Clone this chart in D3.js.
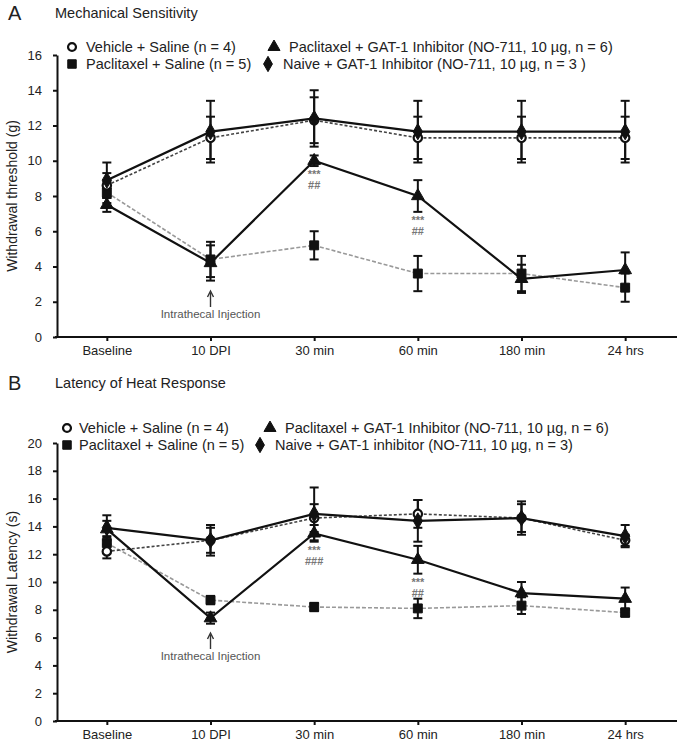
<!DOCTYPE html>
<html><head><meta charset="utf-8">
<script src="https://cdn.jsdelivr.net/npm/d3@7"></script>
<style>body{margin:0;background:#fff}svg{display:block}text{font-family:"Liberation Sans",Arial,sans-serif;fill:#222}</style>
</head><body><svg id="c" width="685" height="750"></svg>
<script>
const categories = ["Baseline","10 DPI","30 min","60 min","180 min","24 hrs"];
const seriesNames = ["Vehicle + Saline (n = 4)","Paclitaxel + Saline (n = 5)","Paclitaxel + GAT-1 Inhibitor (NO-711, 10 µg, n = 6)","Naive + GAT-1 Inhibitor (NO-711, 10 µg, n = 3 )"];
const seriesNamesB = ["Vehicle + Saline (n = 4)","Paclitaxel + Saline (n = 5)","Paclitaxel + GAT-1 Inhibitor (NO-711, 10 µg, n = 6)","Naive + GAT-1 inhibitor (NO-711, 10 µg, n = 3)"];
// Panel A: withdrawal threshold (g)
const vehicleA = [8.6, 11.3, 12.3, 11.3, 11.3, 11.3];
const vehicleAErr = [0.7, 1.2, 1.3, 1.2, 1.2, 1.2];
const pacSalineA = [8.2, 4.4, 5.2, 3.6, 3.6, 2.8];
const pacSalineAErr = [0.6, 1.0, 0.8, 1.0, 1.0, 0.8];
const pacGatA = [7.5, 4.2, 10.0, 8.0, 3.3, 3.8];
const pacGatAErr = [0.4, 1.0, 0.3, 0.9, 0.8, 1.0];
const naiveA = [8.9, 11.65, 12.4, 11.65, 11.65, 11.65];
const naiveAErr = [1.0, 1.75, 1.6, 1.75, 1.75, 1.75];
const yTicksA = [0,2,4,6,8,10,12,14,16];
// Panel B: withdrawal latency (s)
const vehicleB = [12.2, 13.0, 14.6, 14.9, 14.6, 13.0];
const vehicleBErr = [0.5, 0.9, 1.0, 1.0, 1.0, 0.4];
const pacSalineB = [12.8, 8.7, 8.2, 8.1, 8.3, 7.8];
const pacSalineBErr = [0.5, 0.3, 0.3, 0.7, 0.6, 0.3];
const pacGatB = [13.8, 7.4, 13.5, 11.6, 9.2, 8.8];
const pacGatBErr = [0.6, 0.4, 0.6, 1.0, 0.8, 0.8];
const naiveB = [13.9, 13.0, 14.9, 14.4, 14.6, 13.3];
const naiveBErr = [0.9, 1.1, 1.9, 1.5, 1.2, 0.8];
const yTicksB = [0,2,4,6,8,10,12,14,16,18,20];
// significance annotations: [category index, stars, hashes]
const sigA = [[2,"***","##"],[3,"***","##"]];
const sigB = [[2,"***","###"],[3,"***","##"]];

const svg = d3.select("#c");
const styles = [
  {sym:"circle", fill:"#fff", stroke:"#111", line:"#444", dash:"3,2", lw:1.6},
  {sym:"square", fill:"#111", stroke:"#111", line:"#999", dash:"4,2", lw:1.6},
  {sym:"triangle", fill:"#111", stroke:"#111", line:"#111", dash:null, lw:2.2},
  {sym:"diamond", fill:"#111", stroke:"#111", line:"#111", dash:null, lw:2.2}
];
const symType = {circle:d3.symbolCircle, square:d3.symbolSquare, triangle:d3.symbolTriangle, diamond:d3.symbolDiamond};
const symSize = {circle:55, square:80, triangle:70, diamond:75};

function panel(o){
  const g = svg.append("g");
  const x = d3.scalePoint().domain(categories).range([55, 677]).padding(0.5);
  const y = d3.scaleLinear().domain([0, o.ymax]).range([o.y0, o.y1]);
  // title
  g.append("text").attr("x",8).attr("y",o.titleY).attr("font-size",20).text(o.letter);
  g.append("text").attr("x",55).attr("y",o.titleY-2).attr("font-size",14.5).text(o.title);
  // axes
  const ya = g.append("g").attr("transform","translate(57,0)")
    .call(d3.axisLeft(y).tickValues(o.yticks).tickSize(4).tickSizeOuter(0).tickPadding(11));
  ya.selectAll("text").attr("font-size",13).style("fill","#222");
  ya.selectAll("line,path").attr("stroke","#111").attr("stroke-width",2);
  const xa = g.append("g").attr("transform",`translate(0,${o.y0})`)
    .call(d3.axisBottom(x).tickSize(4).tickSizeOuter(0).tickPadding(5));
  xa.select(".domain").attr("d",`M55,0H677`);
  xa.selectAll("text").attr("font-size",13).style("fill","#222");
  xa.selectAll("line,path").attr("stroke","#111").attr("stroke-width",2);
  g.append("text").attr("transform",`translate(17,${(o.y0+o.y1)/2}) rotate(-90)`)
    .attr("text-anchor","middle").attr("font-size",14).text(o.ylabel);
  // series
  const order = [1,0,2,3];
  order.forEach(i=>{
    const s = styles[i], vals = o.data[i];
    const line = d3.line().x((d,j)=>x(categories[j])).y(d=>y(d));
    g.append("path").attr("d",line(vals)).attr("fill","none").attr("stroke",s.line)
      .attr("stroke-width",s.lw).attr("stroke-dasharray",s.dash);
  });
  order.forEach(i=>{
    const s = styles[i], vals = o.data[i], err = o.err[i];
    vals.forEach((v,j)=>{
      const cx = x(categories[j]);
      g.append("line").attr("x1",cx).attr("x2",cx).attr("y1",y(v-err[j])).attr("y2",y(v+err[j]))
        .attr("stroke","#111").attr("stroke-width",2);
      [v-err[j], v+err[j]].forEach(e=>g.append("line").attr("x1",cx-4.5).attr("x2",cx+4.5)
        .attr("y1",y(e)).attr("y2",y(e)).attr("stroke","#111").attr("stroke-width",2));
    });
  });
  order.forEach(i=>{
    const s = styles[i], vals = o.data[i];
    vals.forEach((v,j)=>{
      g.append("path").attr("d",d3.symbol(symType[s.sym], symSize[s.sym])())
        .attr("transform",`translate(${x(categories[j])},${y(v)})`)
        .attr("fill",s.fill).attr("stroke",s.stroke).attr("stroke-width",s.sym==="circle"?2.2:1);
    });
  });
  // significance
  o.sig.forEach(([j,st,hs])=>{
    const base = y(o.data[2][j]-o.err[2][j]);
    g.append("text").attr("x",x(categories[j])).attr("y",base+12).attr("text-anchor","middle")
      .attr("font-size",11).attr("font-weight","bold").style("fill","#777").text(st);
    g.append("text").attr("x",x(categories[j])).attr("y",base+23).attr("text-anchor","middle")
      .attr("font-size",11).attr("font-weight","bold").style("fill","#777").text(hs);
  });
  // injection arrow
  const ax = x(categories[1]);
  g.append("line").attr("x1",ax).attr("x2",ax).attr("y1",o.arrowY+16).attr("y2",o.arrowY+2)
    .attr("stroke","#333").attr("stroke-width",1.4);
  g.append("path").attr("d",`M${ax-3},${o.arrowY+6}L${ax},${o.arrowY}L${ax+3},${o.arrowY+6}`)
    .attr("fill","none").attr("stroke","#333").attr("stroke-width",1.4);
  g.append("text").attr("x",ax).attr("y",o.arrowY+27).attr("text-anchor","middle")
    .attr("font-size",11.5).style("fill","#555").text("Intrathecal Injection");
  // legend
  const lx = [o.col1sym, o.col2sym], tx = [o.col1txt, o.col2txt];
  const pos = [[0,0],[0,1],[1,0],[1,1]];
  o.names.forEach((n,i)=>{
    const [c,r] = pos[i];
    const sy = o.legY + r*o.legDy;
    const s = styles[i];
    const off = (c===1 && r===1) ? o.col2off : 0;
    g.append("path").attr("d",d3.symbol(symType[s.sym], symSize[s.sym]*0.9)())
      .attr("transform",`translate(${lx[c] + off},${sy})`)
      .attr("fill",s.fill).attr("stroke",s.stroke).attr("stroke-width",s.sym==="circle"?2.2:1);
    g.append("text").attr("x",tx[c] + off).attr("y",sy+5).attr("font-size",14.5).text(n);
  });
}

panel({letter:"A", title:"Mechanical Sensitivity", titleY:20, ymax:16, y0:337, y1:55, yticks:yTicksA,
  ylabel:"Withdrawal threshold (g)",
  data:[vehicleA,pacSalineA,pacGatA,naiveA], err:[vehicleAErr,pacSalineAErr,pacGatAErr,naiveAErr],
  sig:sigA, arrowY:291, names:seriesNames, legY:47, legDy:17,
  col1sym:72, col1txt:86, col2sym:274, col2txt:289, col2off:-6});
panel({letter:"B", title:"Latency of Heat Response", titleY:390, ymax:20, y0:721, y1:443, yticks:yTicksB,
  ylabel:"Withdrawal Latency (s)",
  data:[vehicleB,pacSalineB,pacGatB,naiveB], err:[vehicleBErr,pacSalineBErr,pacGatBErr,naiveBErr],
  sig:sigB, arrowY:633, names:seriesNamesB, legY:428, legDy:17,
  col1sym:67, col1txt:79, col2sym:270, col2txt:285, col2off:-10});
</script></body></html>
